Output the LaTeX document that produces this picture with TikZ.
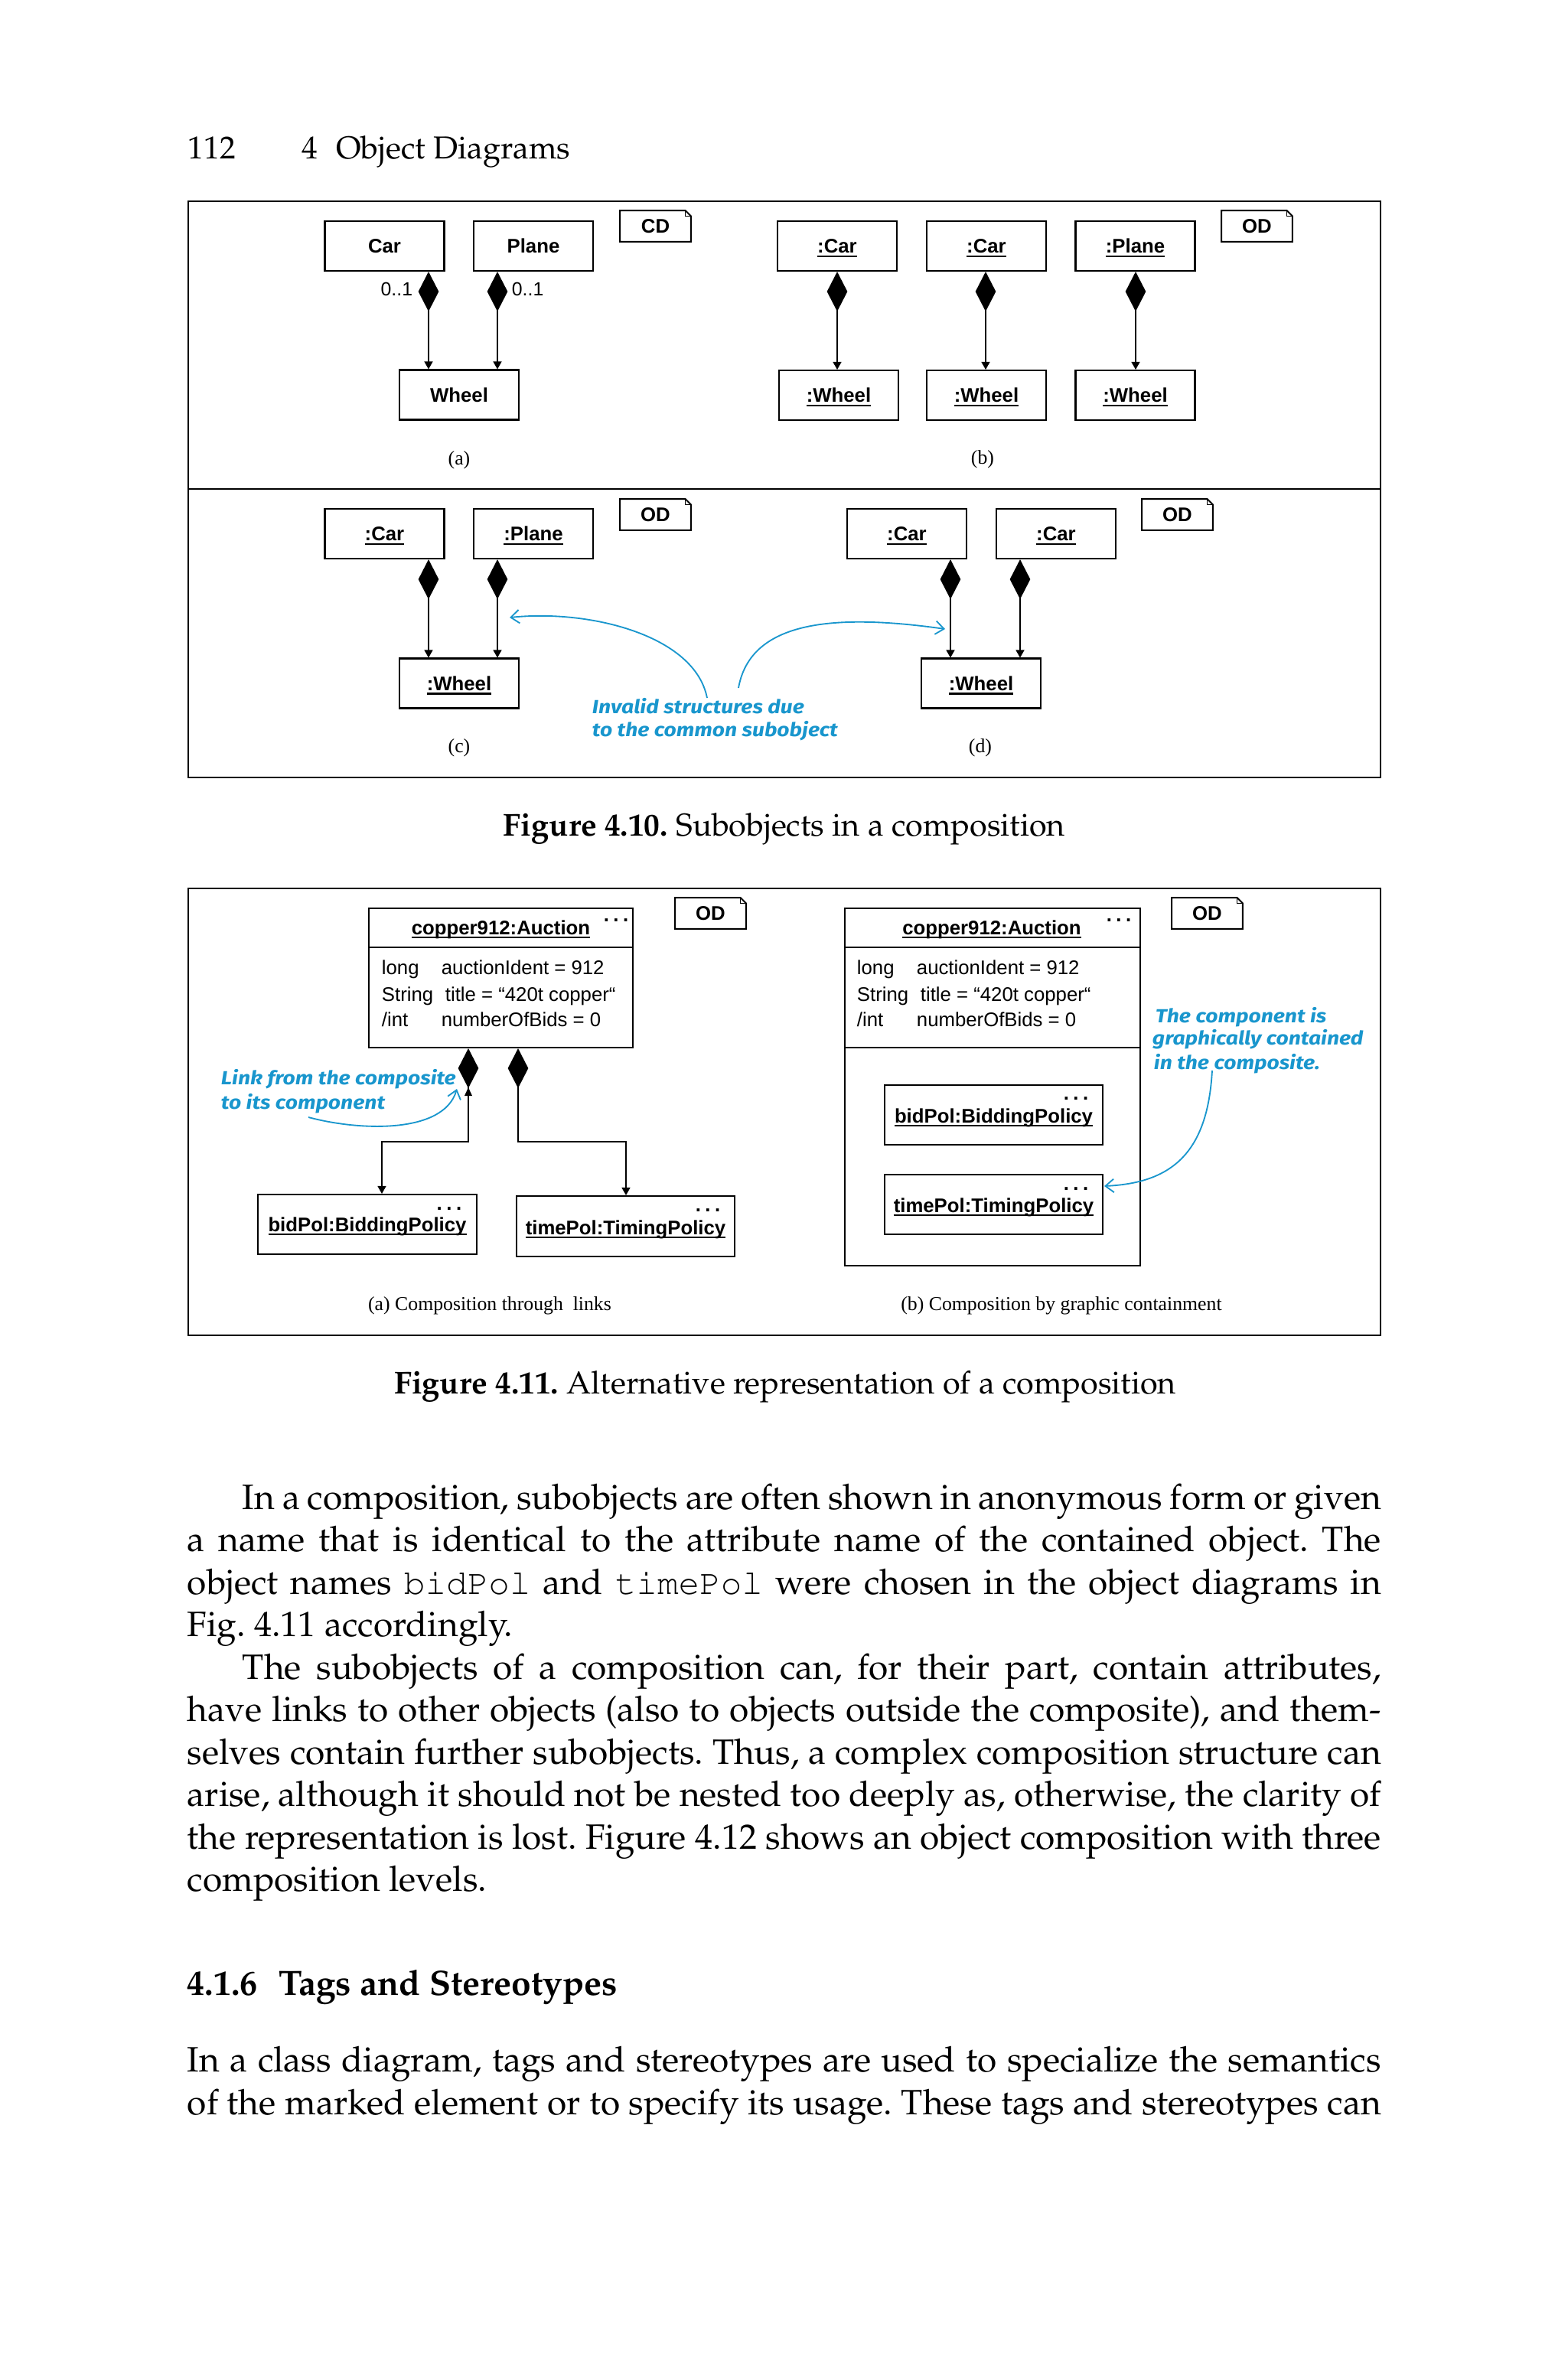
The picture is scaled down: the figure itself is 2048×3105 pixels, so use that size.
\documentclass[tikz,border=0pt]{standalone}
\usepackage[T1]{fontenc}
\usepackage{fontspec}
\usetikzlibrary{arrows.meta}
\newfontfamily\arial{Liberation Sans}
\newfontfamily\tnr{Liberation Serif}
\newfontfamily\annotf{Fira Sans}
\newcommand\pal{\fontencoding{T1}\fontfamily{ppl}\selectfont}
\newcommand\crr{\fontencoding{T1}\fontfamily{pcr}\fontseries{m}\selectfont}
\newdimen\pxd \pxd=0.2174pt
\definecolor{annblue}{RGB}{25,150,205}
\newcommand\umlnote[4]{%
  \node[notetxt] (#1) at (#2,#3) {#4};
  \draw[line width=0.45pt] (#1.north west) -- ([xshift=-1.6pt]#1.north east) -- ([yshift=-1.6pt]#1.north east) -- (#1.south east) -- (#1.south west) -- cycle;
  \draw[line width=0.3pt] ([xshift=-1.6pt]#1.north east) -- ([xshift=-1.6pt,yshift=-1.6pt]#1.north east) -- ([yshift=-1.6pt]#1.north east);}
\newcommand\tdots{.\kern1.2pt.\kern1.2pt.}
\newcommand\ul[1]{\leavevmode\setbox0\hbox{#1}\rlap{\rule[-1.1pt]{\wd0}{0.45pt}}\box0}
\newcommand\ann[1]{\scalebox{1.14}[1]{#1}}
\frenchspacing
\begin{document}
\begin{tikzpicture}[x=0.2174pt,y=-0.2174pt,
  cls/.style={draw, line width=0.45pt, inner sep=0pt, minimum width={156*\pxd}, minimum height={65*\pxd}, text height=4.1pt, text depth=0pt, font=\arial\bfseries\fontsize{5.6}{6.7}\selectfont},
  objbox/.style={draw, line width=0.45pt, inner sep=0pt, font=\arial\bfseries\fontsize{5.6}{6.7}\selectfont},
  notetxt/.style={inner sep=0pt, minimum width={91*\pxd}, minimum height={39*\pxd}, font=\arial\bfseries\fontsize{5.6}{6.7}\selectfont},
  ttl/.style={inner sep=0pt, anchor=base, font=\arial\bfseries\fontsize{5.6}{6.7}\selectfont},
  dotsn/.style={inner sep=0pt, font=\arial\bfseries\fontsize{5.6}{6.7}\selectfont},
  attr/.style={inner sep=0pt, anchor=base west, font=\arial\fontsize{5.6}{6.7}\selectfont},
  mult/.style={inner sep=0pt, font=\arial\fontsize{5.4}{6.5}\selectfont},
  lbl/.style={inner sep=0pt, font=\tnr\fontsize{5.6}{6.7}\selectfont},
  comp/.style={line width=0.35pt, arrows={Diamond[length=11.3pt,width=5.8pt]-Triangle[length=2.2pt,width=2.4pt]}},
  ann/.style={annblue, line width=0.4pt, arrows={-Straight Barb[length=2.4pt,width=3.8pt]}},
  anntext/.style={text=annblue, inner sep=0pt, anchor=base west, font=\annotf\itshape\bfseries\fontsize{5.4}{6.7}\selectfont},
  body/.style={inner sep=0pt, anchor=base west, font=\pal\fontsize{10}{12}\selectfont},
  capt/.style={inner sep=0pt, anchor=base, font=\pal\fontsize{9}{11}\selectfont},
  frame/.style={line width=0.5pt}]
\useasboundingbox (0,0) rectangle (2048,3105);

% running head
\node[body, font=\pal\fontsize{9}{11}\selectfont] (pg) at (245,207) {112};
\node[body, font=\pal\fontsize{9}{11}\selectfont] (rh) at (394,207) {4\kern5.1pt Object Diagrams};

% ---------- Figure 4.10 frame
\draw[frame] (246,263) rectangle (1804,1016);
\draw[frame] (246,639) -- (1804,639);

% (a)
\node[cls] (car) at (502.5,321.5) {Car};
\node[cls] (plane) at (697,321.5) {Plane};
\node[cls] (wheel) at (600,516) {Wheel};
\umlnote{cdn}{856.5}{295.5}{CD}
\draw[comp] (560,0 |- car.south) -- (560,0 |- wheel.north);
\draw[comp] (650,0 |- plane.south) -- (650,0 |- wheel.north);
\node[mult, anchor=east] (m1) at (540,378) {0..1};
\node[mult, anchor=west] (m2) at (668,378) {0..1};
\node[lbl] (la) at (600,601) {(a)};

% (b)
\node[cls] (bc1) at (1094,321.5) {\ul{:Car}};
\node[cls] (bc2) at (1289,321.5) {\ul{:Car}};
\node[cls] (bp) at (1483.5,321.5) {\ul{:Plane}};
\node[cls] (bw1) at (1096,516.5) {\ul{:Wheel}};
\node[cls] (bw2) at (1289,516.5) {\ul{:Wheel}};
\node[cls] (bw3) at (1483.5,516.5) {\ul{:Wheel}};
\umlnote{odb}{1642.5}{295.5}{OD}
\draw[comp] (1094,0 |- bc1.south) -- (1094,0 |- bw1.north);
\draw[comp] (1288,0 |- bc2.south) -- (1288,0 |- bw2.north);
\draw[comp] (1484,0 |- bp.south) -- (1484,0 |- bw3.north);
\node[lbl] (lb) at (1284,600) {(b)};

% (c)
\node[cls] (cc) at (502.5,697.5) {\ul{:Car}};
\node[cls] (cp) at (697,697.5) {\ul{:Plane}};
\node[cls] (cw) at (600,893) {\ul{:Wheel}};
\umlnote{odc}{856.5}{672.5}{OD}
\draw[comp] (560,0 |- cc.south) -- (560,0 |- cw.north);
\draw[comp] (650,0 |- cp.south) -- (650,0 |- cw.north);
\node[lbl] (lc) at (600,977) {(c)};

% (d)
\node[cls] (dc1) at (1185,697.5) {\ul{:Car}};
\node[cls] (dc2) at (1380,697.5) {\ul{:Car}};
\node[cls] (dw) at (1282,893) {\ul{:Wheel}};
\umlnote{odd}{1538.5}{672.5}{OD}
\draw[comp] (1242,0 |- dc1.south) -- (1242,0 |- dw.north);
\draw[comp] (1333,0 |- dc2.south) -- (1333,0 |- dw.north);
\node[lbl] (ld) at (1281,977) {(d)};

% annotation
\node[anntext] (inv1) at (773,932) {\ann{Invalid structures due}};
\node[anntext] (inv2) at (773,962) {\ann{to the common subobject}};
\coordinate (ia) at (924,912);
\coordinate (ta) at (666,807);
\coordinate (ib) at (965,899);
\coordinate (tb) at (1235,822);
\draw[ann] (ia) .. controls (908,830) and (770,796) .. (ta);
\draw[ann] (ib) .. controls (980,815) and (1080,800) .. (tb);

\node[capt] (cap1) at (1025,1092) {{\bfseries Figure 4.10.} Subobjects in a composition};

% ---------- Figure 4.11 frame
\draw[frame] (246,1161) rectangle (1804,1745);

% (a)
\node[objbox, minimum width={345*\pxd}, minimum height={182*\pxd}] (aucA) at (654.5,1278) {};
\draw[line width=0.45pt] (aucA.west |- 0,1238) -- (aucA.east |- 0,1238);
\node[ttl] (tA) at (654.5,1221) {\ul{copper912:Auction}};
\node[dotsn] (dA) at (805,1203) {\tdots};
\node[attr] (a1) at (498,1273) {long};
\node[attr] (a2) at (576,1273) {auctionIdent = 912};
\node[attr] (a3) at (498,1308) {String};
\node[attr] (a4) at (581,1308) {title = “420t copper“};
\node[attr] (a5) at (498,1341) {/int};
\node[attr] (a6) at (576,1341) {numberOfBids = 0};
\umlnote{odA}{928.5}{1193.5}{OD}

\node[objbox, minimum width={286*\pxd}, minimum height={78*\pxd}] (bidA) at (480,1600) {};
\node[ttl] (bidAt) at (480,1609) {\ul{bidPol:BiddingPolicy}};
\node[dotsn] (bidAd) at (587,1580) {\tdots};
\node[objbox, minimum width={285*\pxd}, minimum height={79*\pxd}] (timeA) at (817.5,1602.5) {};
\node[ttl] (timeAt) at (817.5,1613) {\ul{timePol:TimingPolicy}};
\node[dotsn] (timeAd) at (925,1582) {\tdots};

\draw[comp] (612,0 |- aucA.south) -- (612,1492) -| (499,0 |- bidA.north);
\draw[comp] (677,0 |- aucA.south) -- (677,1492) -| (818,0 |- timeA.north);
\fill (607,1432) -- (612,1421) -- (617,1432) -- cycle;

\node[anntext] (lk1) at (288,1417) {\ann{Link from the composite}};
\node[anntext] (lk2) at (288,1449) {\ann{to its component}};
\coordinate (lc0) at (403,1460);
\coordinate (lct) at (597,1423);
\draw[ann] (lc0) .. controls (470,1478) and (580,1482) .. (lct);

\node[lbl] (capa) at (640,1706) {(a) Composition through~ links};

% (b)
\node[objbox, minimum width={386*\pxd}, minimum height={467*\pxd}] (aucB) at (1297,1420.5) {};
\draw[line width=0.45pt] (aucB.west |- 0,1238) -- (aucB.east |- 0,1238);
\draw[line width=0.45pt] (aucB.west |- 0,1369) -- (aucB.east |- 0,1369);
\node[ttl] (tB) at (1296,1221) {\ul{copper912:Auction}};
\node[dotsn] (dB) at (1462,1203) {\tdots};
\node[attr] (b1) at (1119,1273) {long};
\node[attr] (b2) at (1197,1273) {auctionIdent = 912};
\node[attr] (b3) at (1119,1308) {String};
\node[attr] (b4) at (1202,1308) {title = “420t copper“};
\node[attr] (b5) at (1119,1341) {/int};
\node[attr] (b6) at (1197,1341) {numberOfBids = 0};
\umlnote{odB}{1577.5}{1193.5}{OD}

\node[objbox, minimum width={285*\pxd}, minimum height={78*\pxd}] (bidB) at (1298.5,1457) {};
\node[ttl] (bidBt) at (1298.5,1467) {\ul{bidPol:BiddingPolicy}};
\node[dotsn] (bidBd) at (1406,1436) {\tdots};
\node[objbox, minimum width={285*\pxd}, minimum height={78*\pxd}] (timeB) at (1298.5,1574) {};
\node[ttl] (timeBt) at (1298.5,1584) {\ul{timePol:TimingPolicy}};
\node[dotsn] (timeBd) at (1406,1554) {\tdots};

\node[anntext] (gc1) at (1509,1336) {\ann{The component is}};
\node[anntext] (gc2) at (1505,1365) {\ann{graphically contained}};
\node[anntext] (gc3) at (1507,1397) {\ann{in the composite.}};
\coordinate (gs) at (1584,1399);
\coordinate (gt) at (1443,1550);
\draw[ann] (gs) .. controls (1578,1508) and (1530,1546) .. (gt);

\node[lbl] (capb) at (1387,1706) {(b) Composition by graphic containment};

\node[capt] (cap2) at (1026,1821) {{\bfseries Figure 4.11.} Alternative representation of a composition};

% ---------- body text
\node[body] (l1) at (316,1972) {\makebox[1488\pxd][s]{In a composition, subobjects are often shown in anonymous form or given}};
\node[body] (l2) at (244,2027.5) {\makebox[1560\pxd][s]{a name that is identical to the attribute name of the contained object. The}};
\node[body] (l3) at (244,2083) {\makebox[1560\pxd][s]{object names {\crr\fontsize{10}{12}\selectfont bidPol} and {\crr\fontsize{10}{12}\selectfont timePol} were chosen in the object diagrams in}};
\node[body] (l4) at (244,2138.5) {Fig. 4.11 accordingly.};
\node[body] (l5) at (316,2194) {\makebox[1488\pxd][s]{The subobjects of a composition can, for their part, contain attributes,}};
\node[body] (l6) at (244,2249.5) {\makebox[1560\pxd][s]{have links to other objects (also to objects outside the composite), and them-}};
\node[body] (l7) at (244,2305) {\makebox[1560\pxd][s]{selves contain further subobjects. Thus, a complex composition structure can}};
\node[body] (l8) at (244,2360.5) {\makebox[1560\pxd][s]{arise, although it should not be nested too deeply as, otherwise, the clarity of}};
\node[body] (l9) at (244,2416) {\makebox[1560\pxd][s]{the representation is lost. Figure 4.12 shows an object composition with three}};
\node[body] (l10) at (244,2471.5) {composition levels.};

\node[body, font=\pal\bfseries\fontsize{10}{12}\selectfont] (h1) at (244,2607) {4.1.6\kern6pt Tags and Stereotypes};

\node[body] (p1) at (244,2707) {\makebox[1560\pxd][s]{In a class diagram, tags and stereotypes are used to specialize the semantics}};
\node[body] (p2) at (244,2763) {\makebox[1560\pxd][s]{of the marked element or to specify its usage. These tags and stereotypes can}};
\end{tikzpicture}
\end{document}
